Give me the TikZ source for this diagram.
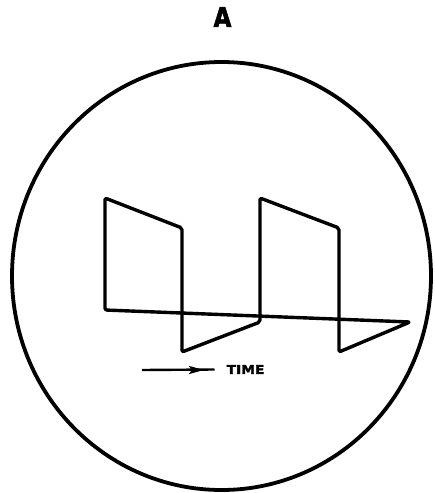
\documentclass[tikz,border=0pt]{standalone}
\usepackage{fontspec}
\newfontfamily\heavyfont{DejaVu Sans Bold}[FakeBold=2.5]
\usepackage{tikz}
\usetikzlibrary{arrows.meta,positioning}

\begin{document}
\begin{tikzpicture}[
  x=1pt, y=-1pt,
  trace/.style={line width=3.4pt, rounded corners=2pt, line join=round},
  screen/.style={line width=3.8pt},
  arrow/.style={-{Stealth[length=15pt,width=8pt,inset=3pt]}, line width=2.4pt},
  label/.style={inner sep=0pt}
]
\useasboundingbox (0,0) rectangle (435,493);
% title
\node[label, font=\heavyfont\fontsize{27}{27}\selectfont, xscale=0.85] (title) at (222.5,17) {A};
% scope face
\draw[screen] (221.5,276) ellipse [x radius=209.5, y radius=214];
% trace corners
\coordinate (p0) at (105,310);
\coordinate (p1) at (105,198);
\coordinate (p2) at (182,228);
\coordinate (p3) at (182,352);
\coordinate (p4) at (260,322);
\coordinate (p5) at (260,198);
\coordinate (p6) at (339,228);
\coordinate (p7) at (339,352);
\coordinate (p8) at (410,322);
\draw[trace] (p0) -- (p1) -- (p2) -- (p3) -- (p4) -- (p5) -- (p6) -- (p7) -- (p8) -- cycle;
% time axis
\node[label, font=\heavyfont\fontsize{12}{12}\selectfont, xscale=1.15, anchor=west] (time) at (226.5,369.5) {TIME};
\coordinate (ts) at (142,370);
\coordinate (tip) at (204,370);
\draw[line width=2.4pt] (ts) -- ([xshift=-12pt]time.west);
\draw[arrow] (ts) -- (tip);
\end{tikzpicture}
\end{document}
